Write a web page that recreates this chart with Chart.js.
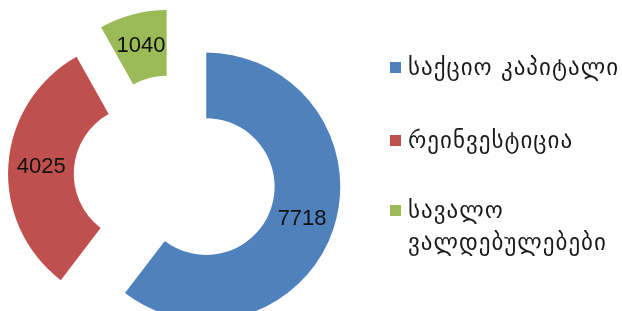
<!DOCTYPE html>
<html>
<head>
<meta charset="utf-8">
<script src="https://cdn.jsdelivr.net/npm/chart.js@4.4.1/dist/chart.umd.min.js"></script>
<style>
  html, body { margin: 0; padding: 0; background: #fff; overflow: hidden; }
  #wrap { position: absolute; left: 0; top: 0; width: 622px; height: 340px; }
  #legend { position: absolute; left: 390px; top: 0; font-family: "DejaVu Sans", sans-serif; font-size: 23px; letter-spacing: 1px; color: #1a1a1a; }
  .item { position: absolute; left: 0; white-space: nowrap; line-height: 32px; }
  .box { position: absolute; left: 0; top: 11px; width: 11px; height: 11px; }
  .txt { position: absolute; left: 18px; top: 0; }
</style>
</head>
<body>
<div id="wrap"><canvas id="doughnut"></canvas></div>
<div id="legend"></div>
<script>
  // Datos del gráfico
  const labels = ["საქციო კაპიტალი", "რეინვესტიცია", ["სავალო", "ვალდებულებები"]];
  const values = [7718, 4025, 1040];
  const colors = ["#4F81BD", "#C0504D", "#9BBB59"];

  const explode = 33; // separación de los sectores

  // dibuja los sectores separados del centro y sus valores
  const explodePlugin = {
    id: 'explode',
    beforeDatasetDraw(chart, args) {
      const ctx = chart.ctx;
      args.meta.data.forEach(function (arc) {
        const mid = (arc.startAngle + arc.endAngle) / 2;
        ctx.save();
        ctx.translate(Math.cos(mid) * explode, Math.sin(mid) * explode);
        arc.draw(ctx);
        ctx.restore();
      });
      return false;
    },
    afterDatasetsDraw(chart) {
      const ctx = chart.ctx;
      const meta = chart.getDatasetMeta(0);
      const data = chart.data.datasets[0].data;
      ctx.save();
      ctx.font = '22px "Liberation Sans", Arial, sans-serif';
      ctx.fillStyle = '#111';
      ctx.textAlign = 'center';
      ctx.textBaseline = 'middle';
      meta.data.forEach(function (arc, i) {
        const mid = (arc.startAngle + arc.endAngle) / 2;
        const pos = arc.tooltipPosition();
        ctx.fillText(String(data[i]), pos.x + Math.cos(mid) * explode, pos.y + Math.sin(mid) * explode);
      });
      ctx.restore();
    }
  };

  const ctx = document.getElementById('doughnut').getContext('2d');
  new Chart(ctx, {
    type: 'doughnut',
    data: {
      labels: labels,
      datasets: [{
        data: values,
        backgroundColor: colors,
        borderWidth: 0
      }]
    },
    options: {
      responsive: true,
      maintainAspectRatio: false,
      animation: false,
      cutout: '51%',
      layout: { padding: { left: 41, top: 42, right: 313, bottom: 30 } },
      plugins: {
        legend: { display: false },
        tooltip: { enabled: false }
      },
      events: []
    },
    plugins: [explodePlugin]
  });

  // leyenda a la derecha
  const legend = document.getElementById('legend');
  const tops = [51, 124, 194];
  labels.forEach(function (lab, i) {
    const item = document.createElement('div');
    item.className = 'item';
    item.style.top = tops[i] + 'px';
    const box = document.createElement('div');
    box.className = 'box';
    box.style.background = colors[i];
    const txt = document.createElement('div');
    txt.className = 'txt';
    txt.innerHTML = Array.isArray(lab) ? lab.join('<br>') : lab;
    item.appendChild(box);
    item.appendChild(txt);
    legend.appendChild(item);
  });
</script>
</body>
</html>
